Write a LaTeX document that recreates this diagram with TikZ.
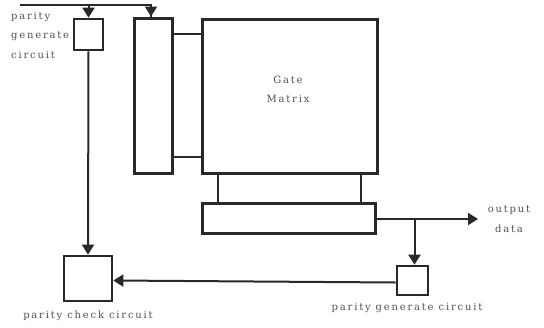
\documentclass[tikz,border=0pt]{standalone}
\usepackage{fontspec}
\setmainfont[LetterSpace=18]{DejaVu Serif}
\usetikzlibrary{arrows.meta}
\definecolor{ink}{RGB}{40,40,40}
\definecolor{txt}{RGB}{80,80,80}
\begin{document}
\begin{tikzpicture}[x=1pt,y=-1pt,
  blk/.style={draw=ink,line width=2.6pt,rectangle,inner sep=0pt,anchor=center},
  wire/.style={draw=ink,line width=2pt},
  arr/.style={wire,-{Triangle[width=12pt,length=10pt]}},
  lbl/.style={text=txt,font=\fontsize{10}{12}\selectfont,inner sep=0pt,align=center}]
\useasboundingbox (0,0) rectangle (544,327);
\node[blk,minimum width=29pt,minimum height=31pt] (pgt) at (88.5,34.5) {};
\node[blk,line width=3pt,minimum width=38pt,minimum height=155pt] (lbar) at (153,95.5) {};
\node[blk,minimum width=30pt,minimum height=123pt] (conn) at (187,95.5) {};
\node[blk,line width=3pt,minimum width=175pt,minimum height=154pt] (gm) at (289.5,96) {};
\node[lbl,font=\fontsize{10}{19}\selectfont] (gmt) at (288,89) {Gate\\Matrix};
\node[blk,minimum width=143pt,minimum height=30pt] (bconn) at (289.5,188) {};
\node[blk,line width=3pt,minimum width=173pt,minimum height=30pt] (bbar) at (288.5,218) {};
\node[blk,minimum width=31pt,minimum height=29pt] (pgb) at (412.5,280.5) {};
\node[blk,minimum width=48pt,minimum height=45pt] (pcc) at (88,278.5) {};
\coordinate (in) at (20,5);
\coordinate (out) at (478,219);
\draw[wire] (in) -| ([xshift=-2pt]lbar.north);
\draw[arr] ([xshift=-2pt]lbar.north |- in) -- ([xshift=-2pt]lbar.north);
\draw[arr] (pgt.north |- in) -- (pgt.north);
\draw[arr] (pgt.south) -- (pcc.north);
\draw[arr] (bbar.east |- out) -- (out);
\draw[arr] ([xshift=2pt]pgb.north |- out) -- ([xshift=2pt]pgb.north);
\draw[arr] ([yshift=-2pt]pgb.west) -- ([yshift=-2pt]pcc.east -| pcc.east);
\node[lbl,align=left,anchor=west,font=\fontsize{10}{19.5}\selectfont] (tl) at (11,35) {parity\\generate\\circuit};
\node[lbl,font=\fontsize{10}{19.5}\selectfont] (od) at (509,219) {output\\data};
\node[lbl] (pgbl) at (407,308) {parity generate circuit};
\node[lbl] (pccl) at (88,316) {parity check circuit};
\end{tikzpicture}
\end{document}
